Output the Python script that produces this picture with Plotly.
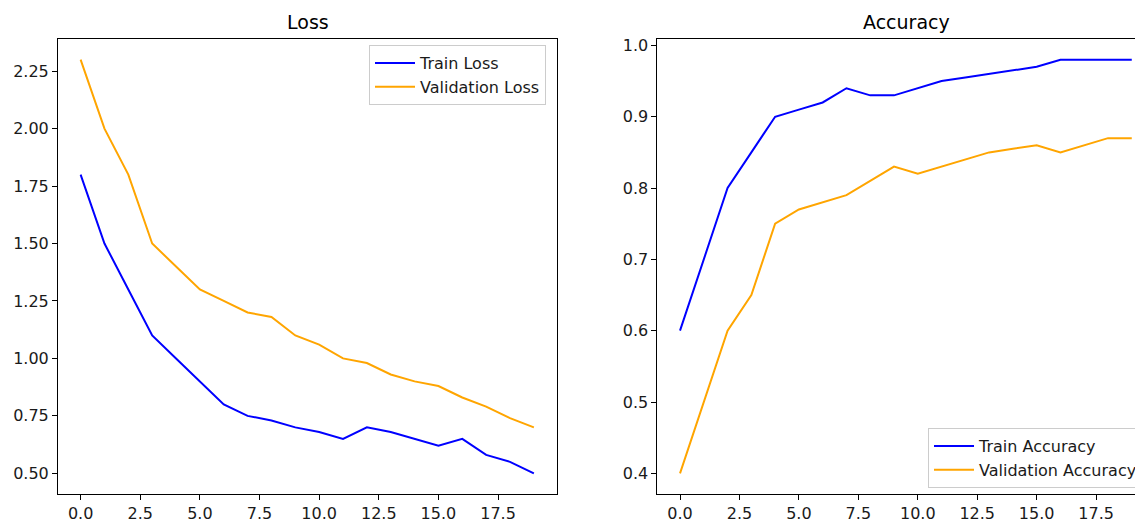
import plotly.graph_objects as go

epochs = list(range(20))
train_loss = [1.8, 1.5, 1.3, 1.1, 1.0, 0.9, 0.8, 0.75, 0.73, 0.70,
              0.68, 0.65, 0.70, 0.68, 0.65, 0.62, 0.65, 0.58, 0.55, 0.50]
val_loss = [2.3, 2.0, 1.8, 1.5, 1.4, 1.3, 1.25, 1.2, 1.18, 1.1,
            1.06, 1.0, 0.98, 0.93, 0.90, 0.88, 0.83, 0.79, 0.74, 0.70]
train_acc = [0.6, 0.7, 0.8, 0.85, 0.9, 0.91, 0.92, 0.94, 0.93, 0.93,
             0.94, 0.95, 0.955, 0.96, 0.965, 0.97, 0.98, 0.98, 0.98, 0.98]
val_acc = [0.4, 0.5, 0.6, 0.65, 0.75, 0.77, 0.78, 0.79, 0.81, 0.83,
           0.82, 0.83, 0.84, 0.85, 0.855, 0.86, 0.85, 0.86, 0.87, 0.87]

loss_yticks = [0.5, 0.75, 1.0, 1.25, 1.5, 1.75, 2.0, 2.25]
acc_yticks = [0.4, 0.5, 0.6, 0.7, 0.8, 0.9, 1.0]
x_ticks = [0, 2.5, 5, 7.5, 10, 12.5, 15, 17.5]

# page has an 8px body margin; figure is sized so it ends at the window edge
OFF = 8
W, H = 1143 - OFF, 521 - OFF
FONT = "DejaVu Sans"
BLUE = "#0000ff"
ORANGE = "#ffa500"
TXT = "#1a1a1a"


def px(p):
    return (p - OFF) / W


def py(p):
    return 1 - (p - OFF) / H


fig = go.Figure()
fig.add_trace(go.Scatter(x=epochs, y=train_loss, mode="lines", name="Train Loss",
                         line=dict(color=BLUE, width=2), xaxis="x", yaxis="y",
                         legend="legend", legendgroup="a"))
fig.add_trace(go.Scatter(x=epochs, y=val_loss, mode="lines", name="Validation Loss",
                         line=dict(color=ORANGE, width=2), xaxis="x", yaxis="y",
                         legend="legend", legendgroup="b"))
fig.add_trace(go.Scatter(x=epochs, y=train_acc, mode="lines", name="Train Accuracy",
                         line=dict(color=BLUE, width=2), xaxis="x2", yaxis="y2",
                         legend="legend2", legendgroup="c"))
fig.add_trace(go.Scatter(x=epochs, y=val_acc, mode="lines", name="Validation Accuracy",
                         line=dict(color=ORANGE, width=2), xaxis="x2", yaxis="y2",
                         legend="legend2", legendgroup="d"))

axis_common = dict(showline=True, linecolor="black", linewidth=1, ticks="outside",
                   ticklen=5, tickwidth=1, tickcolor="black", showgrid=False,
                   zeroline=False, automargin=False,
                   tickfont=dict(family=FONT, size=16, color=TXT))

y_top = py(39)
y_bot = py(494)

legend_common = dict(xanchor="left", yanchor="top", itemwidth=40,
                     bgcolor="rgba(255,255,255,0.8)", bordercolor="#cccccc", borderwidth=1,
                     font=dict(family=FONT, size=16, color=TXT), tracegroupgap=0)

fig.update_layout(
    width=W, height=H,
    margin=dict(l=0, r=0, t=0, b=0),
    paper_bgcolor="white", plot_bgcolor="white",
    showlegend=True,
    xaxis=dict(domain=[px(58), px(557)], range=[-0.95, 19.95], tickvals=x_ticks,
               tickformat=".1f", anchor="y", mirror=True, **axis_common),
    yaxis=dict(domain=[y_bot, y_top], range=[0.41, 2.39], tickvals=loss_yticks,
               tickformat=".2f", anchor="x", mirror=True, **axis_common),
    xaxis2=dict(domain=[px(658), 1.0], range=[-0.95, 19.43], tickvals=x_ticks,
                tickformat=".1f", anchor="y2", mirror=True, **axis_common),
    yaxis2=dict(domain=[y_bot, y_top], range=[0.371, 1.009], tickvals=acc_yticks,
                tickformat=".1f", anchor="x2", mirror=False, **axis_common),
    legend=dict(x=px(369), y=py(45), **legend_common),
    legend2=dict(x=px(929), y=py(428), **legend_common),
    annotations=[
        dict(text="Loss", x=px(308), y=py(21.7), xref="paper", yref="paper",
             xanchor="center", yanchor="middle", showarrow=False,
             font=dict(family=FONT, size=19, color="black")),
        dict(text="Accuracy", x=px(907), y=py(21.7), xref="paper", yref="paper",
             xanchor="center", yanchor="middle", showarrow=False,
             font=dict(family=FONT, size=19, color="black")),
    ],
)

fig.write_html("out.html")
